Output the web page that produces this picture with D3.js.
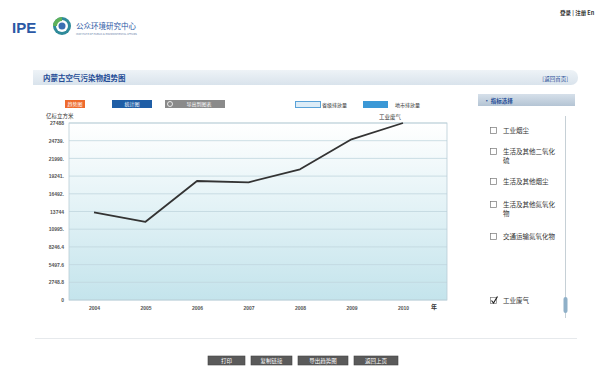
<!DOCTYPE html>
<html>
<head>
<meta charset="utf-8">
<script src="https://cdn.jsdelivr.net/npm/d3@7"></script>
<style>
  body { margin: 0; background: #fff; }
  svg { display: block; font-family: "Noto Sans CJK SC", "Noto Sans", sans-serif; }
</style>
</head>
<body>
<svg id="chart" width="611" height="366"></svg>
<script>
// data (工业废气, 亿标立方米)
const years = ["2004", "2005", "2006", "2007", "2008", "2009", "2010"];
const wasteGas = [13600, 12150, 18480, 18280, 20300, 24960, 27488];
const yTickValues = [0, 2748.8, 5497.6, 8246.4, 10995.2, 13744, 16492.8, 19241.6, 21990.4, 24739.2, 27488];
const yTickLabels = ["0", "2748.8", "5497.6", "8246.4", "10995.", "13744", "16492.", "19241.", "21990.", "24739.", "27488"];
const indicators = [
  { lines: ["工业烟尘"], checked: false },
  { lines: ["生活及其他二氧化", "硫"], checked: false },
  { lines: ["生活及其他烟尘"], checked: false },
  { lines: ["生活及其他氮氧化", "物"], checked: false },
  { lines: ["交通运输氮氧化物"], checked: false }
];
const bottomButtons = ["打印", "复制链接", "导出趋势图", "返回上页"];

const svg = d3.select("#chart");
const defs = svg.append("defs");

const g1 = defs.append("linearGradient").attr("id", "plotBg").attr("x1", 0).attr("y1", 0).attr("x2", 0).attr("y2", 1);
g1.append("stop").attr("offset", "0%").attr("stop-color", "#ffffff");
g1.append("stop").attr("offset", "100%").attr("stop-color", "#c4e4ec");

const g2 = defs.append("linearGradient").attr("id", "barBg").attr("x1", 0).attr("y1", 0).attr("x2", 0).attr("y2", 1);
g2.append("stop").attr("offset", "0%").attr("stop-color", "#eef3f7");
g2.append("stop").attr("offset", "100%").attr("stop-color", "#d9e3ec");

const g3 = defs.append("linearGradient").attr("id", "panelHead").attr("x1", 0).attr("y1", 0).attr("x2", 0).attr("y2", 1);
g3.append("stop").attr("offset", "0%").attr("stop-color", "#d6e0ea");
g3.append("stop").attr("offset", "100%").attr("stop-color", "#b4c4d4");

// ---- header ----
svg.append("text").attr("x", 12).attr("y", 33).attr("font-size", 15).attr("font-weight", "bold")
  .attr("font-family", "Arial, 'Liberation Sans', sans-serif").attr("fill", "#2b58a5").text("IPE");
const logo = svg.append("g").attr("transform", "translate(62,26)");
logo.append("circle").attr("r", 9).attr("fill", "#2f8a9a");
logo.append("circle").attr("r", 6).attr("fill", "#fff");
logo.append("circle").attr("r", 3.5).attr("fill", "#3a6fb2");
logo.append("path").attr("d", "M-9,0 A9,9 0 0 1 0,-9 L0,-5 A5,5 0 0 0 -5,0Z").attr("fill", "#5fb25a");
svg.append("text").attr("x", 76).attr("y", 29).attr("font-size", 7.5).attr("fill", "#2b58a5").text("公众环境研究中心");
svg.append("text").attr("x", 76).attr("y", 34.5).attr("font-size", 2.6).attr("fill", "#6b7fa8")
  .text("INSTITUTE OF PUBLIC & ENVIRONMENTAL AFFAIRS");
svg.append("text").attr("x", 560).attr("y", 15).attr("font-size", 5.5).attr("font-weight", "bold")
  .attr("fill", "#333").text("登录 | 注册 En");

// ---- title bar ----
svg.append("rect").attr("x", 33).attr("y", 70).attr("width", 545).attr("height", 15).attr("rx", 7)
  .attr("fill", "url(#barBg)");
svg.append("rect").attr("x", 33).attr("y", 70).attr("width", 20).attr("height", 15).attr("fill", "url(#barBg)");
svg.append("text").attr("x", 43).attr("y", 80.5).attr("font-size", 7.5).attr("font-weight", "bold")
  .attr("fill", "#1f4c96").text("内蒙古空气污染物趋势图");
svg.append("text").attr("x", 568).attr("y", 80.5).attr("font-size", 5.5).attr("text-anchor", "end")
  .attr("fill", "#1f4c96").text("[返回首页]");

// buttons above the chart
const topBtns = [
  { x: 65, w: 20, fill: "#ee6a2c", label: "趋势图" },
  { x: 112, w: 40, fill: "#1f5ea6", label: "统计图" },
  { x: 165, w: 60, fill: "#8a8a8a", label: "导出到图表" }
];
topBtns.forEach(b => {
  svg.append("rect").attr("x", b.x).attr("y", 100).attr("width", b.w).attr("height", 8).attr("fill", b.fill);
  svg.append("text").attr("x", b.x + b.w / 2 + (b.label === "导出到图表" ? 4 : 0)).attr("y", 106.3)
    .attr("font-size", 5).attr("text-anchor", "middle").attr("fill", "#fff").text(b.label);
});
svg.append("circle").attr("cx", 170).attr("cy", 104).attr("r", 2.5).attr("fill", "none").attr("stroke", "#fff").attr("stroke-width", 0.8);

// legend
svg.append("rect").attr("x", 295.5).attr("y", 101.5).attr("width", 25).attr("height", 6)
  .attr("fill", "#dcecf7").attr("stroke", "#5aa2d8");
svg.append("text").attr("x", 322).attr("y", 106.5).attr("font-size", 5).attr("fill", "#333").text("省级排放量");
svg.append("rect").attr("x", 363).attr("y", 101).attr("width", 25).attr("height", 7).attr("fill", "#3b98d6");
svg.append("text").attr("x", 395).attr("y", 106.5).attr("font-size", 5).attr("fill", "#333").text("地市排放量");

// ---- plot ----
const plot = { left: 69, right: 447, top: 123, bottom: 300 };
const x = d3.scalePoint().domain(years).range([94, 403]);
const y = d3.scaleLinear().domain([0, 27488]).range([plot.bottom, plot.top]);

svg.append("rect").attr("x", plot.left).attr("y", plot.top).attr("width", plot.right - plot.left)
  .attr("height", plot.bottom - plot.top).attr("fill", "url(#plotBg)");

svg.append("g").selectAll("line").data(yTickValues).join("line")
  .attr("x1", plot.left).attr("x2", plot.right)
  .attr("y1", d => y(d)).attr("y2", d => y(d))
  .attr("stroke", "#c0d5de").attr("stroke-width", 0.8);

svg.append("rect").attr("x", plot.left).attr("y", plot.top).attr("width", plot.right - plot.left)
  .attr("height", plot.bottom - plot.top).attr("fill", "none").attr("stroke", "#b9cdd6").attr("stroke-width", 0.8);

const yAxis = d3.axisLeft(y).tickValues(yTickValues).tickSize(0).tickPadding(5)
  .tickFormat((d, i) => yTickLabels[i]);
svg.append("g").attr("transform", `translate(${plot.left},0)`).call(yAxis)
  .call(g => g.select(".domain").remove())
  .call(g => g.selectAll("text").attr("font-size", 5).attr("font-weight", "bold").attr("fill", "#555")
    .attr("font-family", "'Liberation Sans', Arial, sans-serif"));

const xAxis = d3.axisBottom(x).tickSize(0).tickPadding(6);
svg.append("g").attr("transform", `translate(0,${plot.bottom})`).call(xAxis)
  .call(g => g.select(".domain").remove())
  .call(g => g.selectAll("text").attr("font-size", 5).attr("font-weight", "bold").attr("fill", "#555")
    .attr("font-family", "'Liberation Sans', Arial, sans-serif"));
svg.append("text").attr("x", 434).attr("y", 309).attr("font-size", 6).attr("font-weight", "bold")
  .attr("text-anchor", "middle").attr("fill", "#333").text("年");

svg.append("text").attr("x", 46).attr("y", 118).attr("font-size", 5.5).attr("fill", "#333").text("亿标立方米");

const line = d3.line().x((d, i) => x(years[i])).y(d => y(d));
svg.append("path").datum(wasteGas).attr("d", line).attr("fill", "none")
  .attr("stroke", "#333").attr("stroke-width", 1.8).attr("stroke-linejoin", "round");

svg.append("text").attr("x", x("2010") - 2).attr("y", y(wasteGas[6]) - 4).attr("font-size", 5.5)
  .attr("text-anchor", "end").attr("fill", "#333").text("工业废气");

// ---- indicator panel ----
svg.append("rect").attr("x", 478).attr("y", 94).attr("width", 97).attr("height", 12).attr("fill", "url(#panelHead)");
svg.append("text").attr("x", 484).attr("y", 102.5).attr("font-size", 5.5).attr("font-weight", "bold")
  .attr("fill", "#1f4c96").text("• 指标选择");
svg.append("line").attr("x1", 565.5).attr("x2", 565.5).attr("y1", 116).attr("y2", 318)
  .attr("stroke", "#b8c4cc").attr("stroke-width", 0.8);
svg.append("rect").attr("x", 563.5).attr("y", 297).attr("width", 4).attr("height", 16).attr("rx", 2)
  .attr("fill", "#8fb0c8");

const itemY = [131, 152, 182, 205, 237];
indicators.forEach((d, i) => {
  const g = svg.append("g");
  g.append("rect").attr("x", 490.5).attr("y", itemY[i] - 3.5).attr("width", 6).attr("height", 6)
    .attr("fill", "#fff").attr("stroke", "#777").attr("stroke-width", 0.7);
  d.lines.forEach((t, j) => {
    g.append("text").attr("x", 503).attr("y", itemY[i] + 2 + j * 9).attr("font-size", 6.5)
      .attr("fill", "#333").text(t);
  });
});
svg.append("rect").attr("x", 490.5).attr("y", 297.5).attr("width", 6).attr("height", 6)
  .attr("fill", "#fff").attr("stroke", "#777").attr("stroke-width", 0.7);
svg.append("path").attr("d", "M491.5,300.5 L493.5,303 L497.5,296.5").attr("fill", "none")
  .attr("stroke", "#222").attr("stroke-width", 1.2);
svg.append("text").attr("x", 503).attr("y", 303).attr("font-size", 6.5).attr("fill", "#333").text("工业废气");

// ---- footer ----
svg.append("line").attr("x1", 35).attr("x2", 577).attr("y1", 338.5).attr("y2", 338.5)
  .attr("stroke", "#e6e9ec");
const btnX = [208, 251, 298, 354];
const btnW = [37, 41, 50, 44];
bottomButtons.forEach((t, i) => {
  svg.append("rect").attr("x", btnX[i]).attr("y", 356).attr("width", btnW[i]).attr("height", 9)
    .attr("fill", "#5a5a5a").attr("stroke", "#444").attr("stroke-width", 0.6);
  svg.append("text").attr("x", btnX[i] + btnW[i] / 2).attr("y", 362.5).attr("font-size", 5.5)
    .attr("text-anchor", "middle").attr("fill", "#fff").text(t);
});
</script>
</body>
</html>
